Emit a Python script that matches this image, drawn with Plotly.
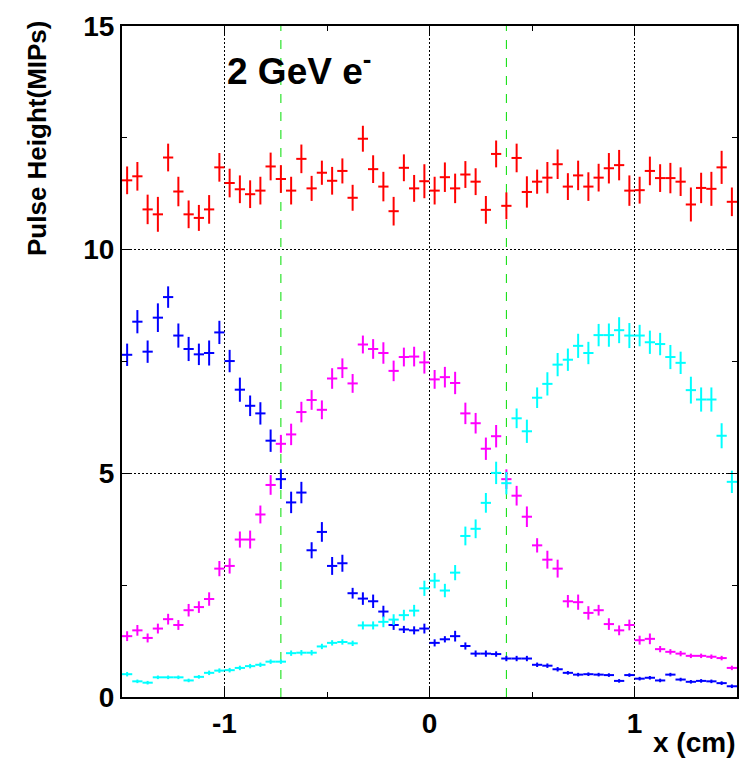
import plotly.graph_objects as go

# Bin centres (cm)
x_bins = [-1.475, -1.425, -1.375, -1.325, -1.275, -1.225, -1.175, -1.125, -1.075, -1.025,
          -0.975, -0.925, -0.875, -0.825, -0.775, -0.725, -0.675, -0.625, -0.575, -0.525,
          -0.475, -0.425, -0.375, -0.325, -0.275, -0.225, -0.175, -0.125, -0.075, -0.025,
          0.025, 0.075, 0.125, 0.175, 0.225, 0.275, 0.325, 0.375, 0.425, 0.475,
          0.525, 0.575, 0.625, 0.675, 0.725, 0.775, 0.825, 0.875, 0.925, 0.975,
          1.025, 1.075, 1.125, 1.175, 1.225, 1.275, 1.325, 1.375, 1.425, 1.475]
bin_half_width = 0.025

# Sum (red)
red_y = [11.55, 11.64, 10.90, 10.79, 12.06, 11.30, 10.79, 10.71, 10.90, 11.84,
         11.49, 11.35, 11.24, 11.32, 11.86, 11.58, 11.32, 12.03, 11.37, 11.72,
         11.54, 11.76, 11.16, 12.48, 11.80, 11.41, 10.86, 11.83, 11.37, 11.53,
         11.32, 11.62, 11.37, 11.68, 11.52, 10.89, 12.14, 10.98, 12.05, 11.29,
         11.52, 11.61, 11.91, 11.41, 11.66, 11.41, 11.61, 11.82, 11.89, 11.32,
         11.33, 11.76, 11.60, 11.60, 11.52, 11.01, 11.38, 11.36, 11.84, 11.07]
red_err = [0.31, 0.32, 0.33, 0.39, 0.31, 0.33, 0.31, 0.29, 0.32, 0.32,
           0.32, 0.31, 0.31, 0.31, 0.31, 0.31, 0.31, 0.32, 0.28, 0.27,
           0.31, 0.28, 0.29, 0.29, 0.31, 0.33, 0.32, 0.30, 0.30, 0.38,
           0.31, 0.33, 0.33, 0.30, 0.30, 0.31, 0.30, 0.30, 0.32, 0.35,
           0.27, 0.35, 0.33, 0.30, 0.33, 0.32, 0.31, 0.34, 0.34, 0.34,
           0.30, 0.32, 0.31, 0.34, 0.32, 0.38, 0.34, 0.38, 0.37, 0.32]

# Left pad (blue)
blue_y = [7.65, 8.39, 7.72, 8.48, 8.94, 8.08, 7.78, 7.66, 7.69, 8.15,
          7.51, 6.87, 6.51, 6.34, 5.73, 4.87, 4.35, 4.57, 3.28, 3.69,
          2.93, 2.99, 2.32, 2.20, 2.14, 1.91, 1.61, 1.51, 1.49, 1.53,
          1.21, 1.29, 1.36, 1.14, 0.97, 0.97, 0.96, 0.86, 0.86, 0.86,
          0.72, 0.70, 0.62, 0.54, 0.50, 0.51, 0.50, 0.49, 0.36, 0.49,
          0.41, 0.43, 0.37, 0.50, 0.39, 0.34, 0.36, 0.35, 0.31, 0.24]
blue_err = [0.25, 0.26, 0.25, 0.32, 0.24, 0.27, 0.27, 0.24, 0.28, 0.26,
            0.25, 0.27, 0.23, 0.25, 0.25, 0.22, 0.24, 0.24, 0.18, 0.22,
            0.20, 0.19, 0.12, 0.14, 0.15, 0.13, 0.11, 0.08, 0.09, 0.11,
            0.08, 0.07, 0.12, 0.08, 0.07, 0.07, 0.06, 0.06, 0.06, 0.06,
            0.05, 0.05, 0.05, 0.04, 0.04, 0.04, 0.04, 0.04, 0.04, 0.04,
            0.04, 0.04, 0.04, 0.04, 0.04, 0.04, 0.04, 0.04, 0.04, 0.04]

# Centre pad (magenta)
magenta_y = [1.36, 1.49, 1.32, 1.53, 1.74, 1.61, 1.94, 2.01, 2.19, 2.87,
             2.93, 3.52, 3.52, 4.08, 4.74, 5.66, 5.87, 6.37, 6.64, 6.42,
             7.12, 7.35, 7.01, 7.88, 7.78, 7.69, 7.29, 7.60, 7.61, 7.48,
             7.10, 7.15, 7.02, 6.34, 6.12, 5.55, 5.83, 4.87, 4.50, 4.03,
             3.39, 3.07, 2.87, 2.14, 2.12, 1.88, 1.94, 1.63, 1.49, 1.61,
             1.27, 1.30, 1.07, 1.01, 0.97, 0.92, 0.92, 0.90, 0.87, 0.65]
magenta_err = [0.11, 0.12, 0.10, 0.11, 0.12, 0.11, 0.14, 0.13, 0.15, 0.17,
               0.17, 0.18, 0.20, 0.20, 0.22, 0.20, 0.24, 0.23, 0.22, 0.21,
               0.23, 0.22, 0.21, 0.20, 0.22, 0.24, 0.23, 0.21, 0.22, 0.25,
               0.21, 0.23, 0.25, 0.24, 0.23, 0.25, 0.25, 0.22, 0.22, 0.23,
               0.16, 0.20, 0.20, 0.14, 0.17, 0.15, 0.12, 0.13, 0.11, 0.12,
               0.10, 0.12, 0.07, 0.06, 0.06, 0.05, 0.05, 0.05, 0.05, 0.05]

# Right pad (cyan)
cyan_y = [0.51, 0.35, 0.32, 0.44, 0.44, 0.44, 0.37, 0.45, 0.54, 0.59,
          0.60, 0.65, 0.69, 0.72, 0.79, 0.79, 0.98, 0.99, 0.99, 1.13,
          1.21, 1.23, 1.20, 1.60, 1.60, 1.68, 1.73, 1.83, 1.93, 2.43,
          2.60, 2.38, 2.78, 3.60, 3.76, 4.34, 5.01, 4.78, 6.23, 5.94,
          6.69, 7.00, 7.43, 7.54, 7.85, 7.69, 8.09, 8.09, 8.20, 8.08,
          8.08, 7.93, 7.89, 7.60, 7.47, 6.86, 6.65, 6.65, 5.84, 4.81]
cyan_err = [0.05, 0.04, 0.04, 0.04, 0.04, 0.04, 0.04, 0.04, 0.05, 0.05,
            0.05, 0.05, 0.05, 0.05, 0.05, 0.05, 0.06, 0.06, 0.06, 0.06,
            0.06, 0.06, 0.06, 0.09, 0.09, 0.12, 0.12, 0.12, 0.13, 0.17,
            0.17, 0.15, 0.17, 0.21, 0.21, 0.22, 0.25, 0.25, 0.22, 0.26,
            0.23, 0.26, 0.26, 0.25, 0.27, 0.25, 0.25, 0.26, 0.29, 0.28,
            0.24, 0.26, 0.25, 0.27, 0.25, 0.30, 0.27, 0.27, 0.28, 0.25]

pad_edges = [-0.725, 0.375]

series = [
    ("Sum", red_y, red_err, "#ff0000"),
    ("Left", blue_y, blue_err, "#0000ff"),
    ("Centre", magenta_y, magenta_err, "#ff00ff"),
    ("Right", cyan_y, cyan_err, "#00ffff"),
]

FONT = "Liberation Sans, Arial, Helvetica, sans-serif"

fig = go.Figure()
for name, yv, ev, col in series:
    fig.add_trace(go.Scatter(
        x=x_bins, y=yv, mode="markers", name=name,
        marker=dict(size=1, color=col),
        error_y=dict(type="data", array=ev, visible=True, width=0,
                     thickness=2, color=col),
        error_x=dict(type="constant", value=bin_half_width, visible=True,
                     width=0, thickness=2, color=col),
        showlegend=False,
    ))

for xe in pad_edges:
    fig.add_shape(type="line", x0=xe, x1=xe, y0=0, y1=15, xref="x", yref="y",
                  line=dict(color="#00dd00", width=1, dash="dash"), layer="below")

fig.add_annotation(x=-1.0, y=14.05, xref="x", yref="y", xanchor="left",
                   yanchor="middle", showarrow=False,
                   text="<b>2 GeV e<sup>-</sup></b>",
                   font=dict(family=FONT, size=37, color="black"))
fig.add_annotation(x=-0.1394, y=0.832, xref="paper", yref="paper",
                   xanchor="center", yanchor="middle", showarrow=False,
                   textangle=-90, text="<b>Pulse Height(MIPs)</b>",
                   font=dict(family=FONT, size=26, color="black"))
fig.add_annotation(x=1.0, y=-0.0677, xref="paper", yref="paper",
                   xanchor="right", yanchor="middle", showarrow=False,
                   text="<b>x (cm)</b>",
                   font=dict(family=FONT, size=28, color="black"))

axis_common = dict(
    showline=True, linecolor="black", linewidth=2, mirror="allticks",
    ticks="inside", ticklen=10, tickwidth=1, tickcolor="black",
    showgrid=True, gridcolor="black", gridwidth=1, griddash="2px,2px",
    zeroline=False,
    tickfont=dict(family=FONT, size=28, color="black", weight="bold"),
)

fig.update_xaxes(range=[-1.5, 1.5], tickmode="array", tickvals=[-1, 0, 1],
                 ticktext=["-1", "0", "1"],
                 minor=dict(tickmode="linear", tick0=0, dtick=0.5, ticks="inside",
                            ticklen=5, tickcolor="black", showgrid=False),
                 **axis_common)
fig.update_yaxes(range=[0, 15], tickmode="array", tickvals=[0, 5, 10, 15],
                 ticktext=["0", "5", "10", "15"],
                 minor=dict(tickmode="linear", tick0=0, dtick=2.5, ticks="inside",
                            ticklen=5, tickcolor="black", showgrid=False),
                 **axis_common)

fig.update_layout(
    width=750, height=758,
    margin=dict(l=122, r=11, t=18, b=61),
    paper_bgcolor="white", plot_bgcolor="white",
    font=dict(family=FONT, color="black"),
)

fig.write_html("out.html")
